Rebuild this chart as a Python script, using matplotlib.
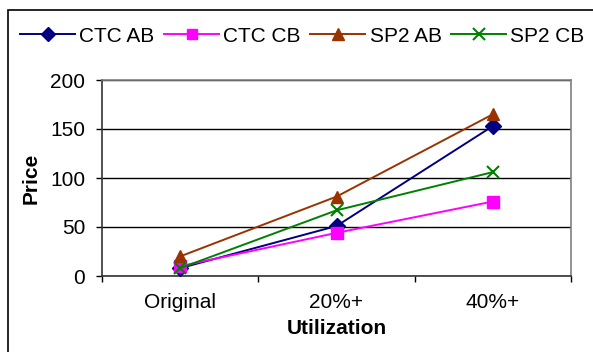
import matplotlib.pyplot as plt
from matplotlib.patches import Rectangle

plt.rcParams['font.family'] = ['Liberation Sans', 'DejaVu Sans']

categories = ['Original', '20%+', '40%+']
ctc_ab = [8, 51, 153]
ctc_cb = [10, 44, 76]
sp2_ab = [20, 81, 165]
sp2_cb = [8, 67, 106]

series = [
    ('CTC AB', ctc_ab, '#000080', 'D', 8),
    ('CTC CB', ctc_cb, '#FF00FF', 's', 8),
    ('SP2 AB', sp2_ab, '#993300', '^', 9),
    ('SP2 CB', sp2_cb, '#008000', 'x', 9),
]

fig = plt.figure(figsize=(5.93, 3.52), dpi=100)
ax = fig.add_axes([102 / 593, 76 / 352, 469 / 593, 196 / 352])

x = range(len(categories))
for name, vals, color, marker, ms in series:
    ax.plot(x, vals, color=color, marker=marker, markersize=ms, lw=1.4,
            markeredgewidth=1.5 if marker == 'x' else 1.0, label=name,
            clip_on=False, zorder=3)

ax.set_xlim(-0.5, 2.5)
ax.set_ylim(0, 200)
ax.set_yticks([0, 50, 100, 150, 200])
ax.yaxis.grid(True, color='black', lw=1)
ax.set_axisbelow(True)

ax.set_xticks([-0.5, 0.5, 1.5, 2.5])
ax.set_xticklabels([])
ax.set_xticks(list(x), minor=True)
ax.set_xticklabels(categories, minor=True)
ax.tick_params(axis='x', which='major', length=4, width=1, direction='out')
ax.tick_params(axis='x', which='minor', length=0, pad=12, labelsize=15)
ax.tick_params(axis='y', length=4, width=1, pad=8, labelsize=15)

for s in ['top', 'right']:
    ax.spines[s].set_color('#808080')
    ax.spines[s].set_linewidth(1.2)
for s in ['left', 'bottom']:
    ax.spines[s].set_color('#333333')
    ax.spines[s].set_linewidth(1.2)

ax.set_xlabel('Utilization', fontsize=15, fontweight='bold', labelpad=5)
ax.set_ylabel('Price', fontsize=15, fontweight='bold', labelpad=7)

fig.legend(loc='center left', bbox_to_anchor=(20 / 593, 1 - 36 / 352),
           ncol=4, frameon=False, fontsize=15, handlelength=2.65,
           handletextpad=0.2, columnspacing=0.45, borderpad=0, borderaxespad=0,
           markerscale=0.9)

fig.patches.append(Rectangle((8 / 593, -0.1), 1.2, 1.1 - 10 / 352,
                             transform=fig.transFigure, fill=False,
                             edgecolor='black', lw=1.2))

fig.savefig('out.png', dpi=100)
